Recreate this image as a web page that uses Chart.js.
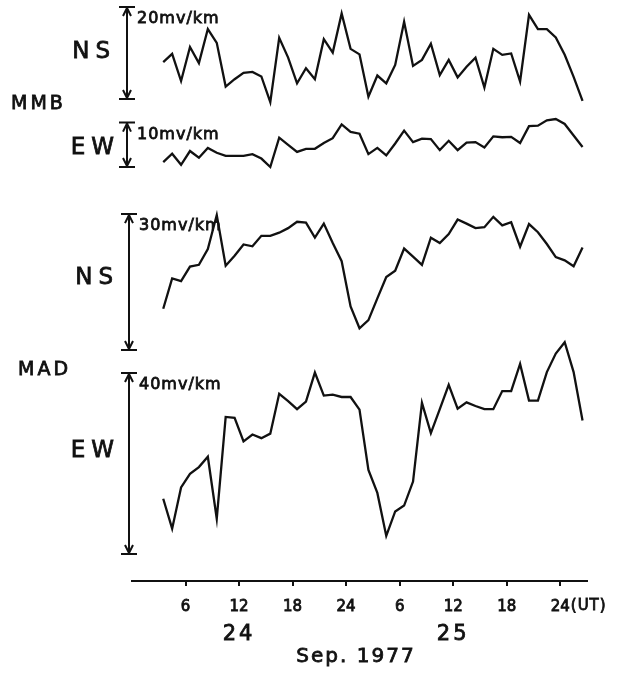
<!DOCTYPE html>
<html>
<head>
<meta charset="utf-8">
<script src="https://cdn.jsdelivr.net/npm/chart.js@4.4.1/dist/chart.umd.min.js"></script>
<style>
  html, body { margin: 0; padding: 0; background: #fff; }
  canvas { display: block; }
</style>
</head>
<body>
<canvas id="chart" width="624" height="675"></canvas>
<script>
// hourly values, 24-25 Sep 1977 (hours counted from 00 UT on the 24th)
const HOURS = [3.5, 4.5, 5.5, 6.5, 7.5, 8.5, 9.5, 10.5, 11.5, 12.5,
  13.5, 14.5, 15.5, 16.5, 17.5, 18.5, 19.5, 20.5, 21.5, 22.5,
  23.5, 24.5, 25.5, 26.5, 27.5, 28.5, 29.5, 30.5, 31.5, 32.5,
  33.5, 34.5, 35.5, 36.5, 37.5, 38.5, 39.5, 40.5, 41.5, 42.5,
  43.5, 44.5, 45.5, 46.5, 47.5, 48.5, 49.5, 50.5];

// mv/km (relative to the foot of each scale bar)
const MMB_NS = [8.0, 9.8, 3.9, 11.3, 7.8, 15.2, 12.2, 2.7, 4.3, 5.7,
  5.9, 4.9, -0.7, 13.3, 9.0, 3.4, 6.7, 4.3, 13.0, 10.1,
  18.6, 10.9, 9.7, 0.5, 5.1, 3.4, 7.4, 16.8, 7.2, 8.5,
  12.0, 5.2, 8.5, 4.7, 7.0, 9.0, 2.5, 10.9, 9.6, 9.9,
  3.8, 18.3, 15.2, 15.2, 13.4, 9.6, 4.8, -0.4];
const MMB_EW = [1.1, 3.0, 0.5, 3.6, 2.1, 4.3, 3.2, 2.5, 2.5, 2.5,
  2.9, 1.9, 0.0, 6.6, 5.0, 3.4, 4.1, 4.1, 5.4, 6.5,
  9.6, 7.9, 7.5, 2.9, 4.3, 2.6, 5.3, 8.2, 5.6, 6.4,
  6.3, 3.8, 5.9, 3.8, 5.5, 5.6, 4.4, 6.9, 6.7, 6.8,
  5.4, 9.2, 9.3, 10.5, 10.8, 9.7, 7.1, 4.5];
const MAD_NS = [9.1, 15.8, 15.2, 18.4, 18.8, 22.3, 29.8, 18.6, 20.8, 23.3,
  22.9, 25.2, 25.2, 25.9, 26.9, 28.3, 28.1, 24.8, 27.9, 23.6,
  19.6, 9.6, 4.8, 6.6, 11.4, 16.1, 17.5, 22.4, 20.6, 18.8,
  24.8, 23.6, 25.6, 28.8, 27.9, 26.9, 27.1, 29.4, 27.5, 28.2,
  22.8, 27.8, 26.0, 23.4, 20.5, 19.8, 18.5, 22.6];
const MAD_EW = [12.2, 5.6, 14.7, 17.7, 19.2, 21.5, 7.8, 30.3, 30.1, 24.9,
  26.4, 25.6, 26.6, 35.4, 33.8, 32.0, 33.7, 40.1, 35.0, 35.2,
  34.7, 34.7, 31.9, 18.6, 13.5, 4.0, 9.4, 10.7, 16.0, 33.4,
  26.7, 32.0, 37.4, 32.1, 33.5, 32.7, 32.0, 32.0, 36.0, 36.0,
  42.0, 33.9, 33.9, 40.2, 44.3, 46.8, 40.2, 29.5];

const SCALE_MV = [20, 10, 30, 40];
const COMPONENTS = ['NS', 'EW', 'NS', 'EW'];
const STATIONS = ['MMB', 'MAD'];
const TICK_HOURS = [6, 12, 18, 24, 30, 36, 42, 48];
const TICK_LABELS = ['6', '12', '18', '24', '6', '12', '18', '24'];
const DAY_HOURS = [12, 36];
const DAY_LABELS = ['24', '25'];
const MONTH_LABEL = 'Sep. 1977';

const INK = '#111';
const FONT = '"DejaVu Sans", sans-serif';
const AREA_H = 581;   // chart area height (x axis line sits here)

// where each trace sits: pixel of value 0 and pixels per mv/km
const panels = [
  { id: 'y0', zero: 99,  k: 4.6,  barX: 127, labelX: 116, labelY: 52 },
  { id: 'y1', zero: 167, k: 4.44, barX: 127, labelX: 120, labelY: 148 },
  { id: 'y2', zero: 350, k: 4.53, barX: 129, labelX: 119, labelY: 278 },
  { id: 'y3', zero: 554, k: 4.525, barX: 129, labelX: 120, labelY: 451 },
];
const series = [MMB_NS, MMB_EW, MAD_NS, MAD_EW];

function text(ctx, str, x, y, size, align, spacing, baseline) {
  ctx.save();
  ctx.font = size + 'px ' + FONT;
  ctx.fillStyle = INK;
  ctx.strokeStyle = INK;
  ctx.lineWidth = 0.8;
  ctx.textAlign = align || 'left';
  ctx.textBaseline = baseline || 'middle';
  ctx.letterSpacing = (spacing || 0) + 'px';
  ctx.fillText(str, x, y);
  ctx.strokeText(str, x, y);
  ctx.restore();
}

function scaleBar(ctx, x, yTop, yBot) {
  ctx.save();
  ctx.strokeStyle = INK;
  ctx.lineWidth = 2;
  ctx.beginPath();
  ctx.moveTo(x - 8, yTop); ctx.lineTo(x + 8, yTop);
  ctx.moveTo(x - 8, yBot); ctx.lineTo(x + 8, yBot);
  ctx.moveTo(x, yTop + 1); ctx.lineTo(x, yBot - 1);
  ctx.moveTo(x - 4, yTop + 9); ctx.lineTo(x, yTop + 1); ctx.lineTo(x + 4, yTop + 9);
  ctx.moveTo(x - 4, yBot - 9); ctx.lineTo(x, yBot - 1); ctx.lineTo(x + 4, yBot - 9);
  ctx.stroke();
  ctx.restore();
}

const decorations = {
  id: 'decorations',
  afterDraw(chart) {
    const ctx = chart.ctx;
    const xs = chart.scales.x;
    panels.forEach((p, i) => {
      const ys = chart.scales[p.id];
      const top = ys.getPixelForValue(SCALE_MV[i]);
      const bot = ys.getPixelForValue(0);
      scaleBar(ctx, p.barX, top, bot);
      text(ctx, SCALE_MV[i] + 'mv/km', p.barX + 10, top + 16, 16, 'left', 1, 'alphabetic');
      text(ctx, COMPONENTS[i], p.labelX, p.labelY, 23, 'right', 6);
    });
    text(ctx, STATIONS[0], 11, 104, 19, 'left', 3);
    text(ctx, STATIONS[1], 18, 370, 19, 'left', 3);

    // "(UT)" after the last tick label
    const lastX = xs.getPixelForValue(TICK_HOURS[TICK_HOURS.length - 1]);
    ctx.save();
    ctx.font = '15px ' + FONT;
    const half = ctx.measureText(TICK_LABELS[TICK_LABELS.length - 1]).width / 2;
    ctx.restore();
    text(ctx, '(UT)', lastX + half + 1, xs.top + 5 + 11 + 9, 15, 'left', 1);

    DAY_LABELS.forEach((d, i) => {
      text(ctx, d, xs.getPixelForValue(DAY_HOURS[i]), 635, 21, 'center', 3);
    });
    text(ctx, MONTH_LABEL, 356, 657, 20, 'center', 2);
  }
};

const yScales = {};
panels.forEach(p => {
  const min = (p.zero - AREA_H) / p.k;
  yScales[p.id] = { type: 'linear', display: false, min: min, max: min + AREA_H / p.k };
});

new Chart(document.getElementById('chart'), {
  type: 'line',
  data: {
    datasets: series.map((vals, i) => ({
      label: STATIONS[i < 2 ? 0 : 1] + ' ' + COMPONENTS[i],
      data: HOURS.map((h, j) => ({ x: h, y: vals[j] })),
      yAxisID: panels[i].id,
      borderColor: INK,
      borderWidth: 2.3,
      pointRadius: 0,
      tension: 0,
      fill: false,
      clip: false,
    })),
  },
  options: {
    responsive: false,
    animation: false,
    layout: { padding: { left: 132, right: 37, top: 0, bottom: 0 } },
    plugins: { legend: { display: false }, tooltip: { enabled: false } },
    scales: Object.assign({
      x: {
        type: 'linear',
        min: 0,
        max: 51,
        afterBuildTicks(scale) {
          scale.ticks = TICK_HOURS.map(v => ({ value: v }));
        },
        afterFit(scale) {
          scale.height = 675 - AREA_H;
        },
        ticks: {
          autoSkip: false,
          maxRotation: 0,
          padding: 12,
          color: INK,
          textStrokeColor: INK,
          textStrokeWidth: 0.8,
          font: { family: FONT, size: 15 },
          callback: (v) => TICK_LABELS[TICK_HOURS.indexOf(v)],
        },
        grid: { drawOnChartArea: false, drawTicks: true, tickLength: 5, color: INK, lineWidth: 2 },
        border: { display: true, color: INK, width: 2 },
      },
    }, yScales),
  },
  plugins: [decorations],
});
</script>
</body>
</html>
